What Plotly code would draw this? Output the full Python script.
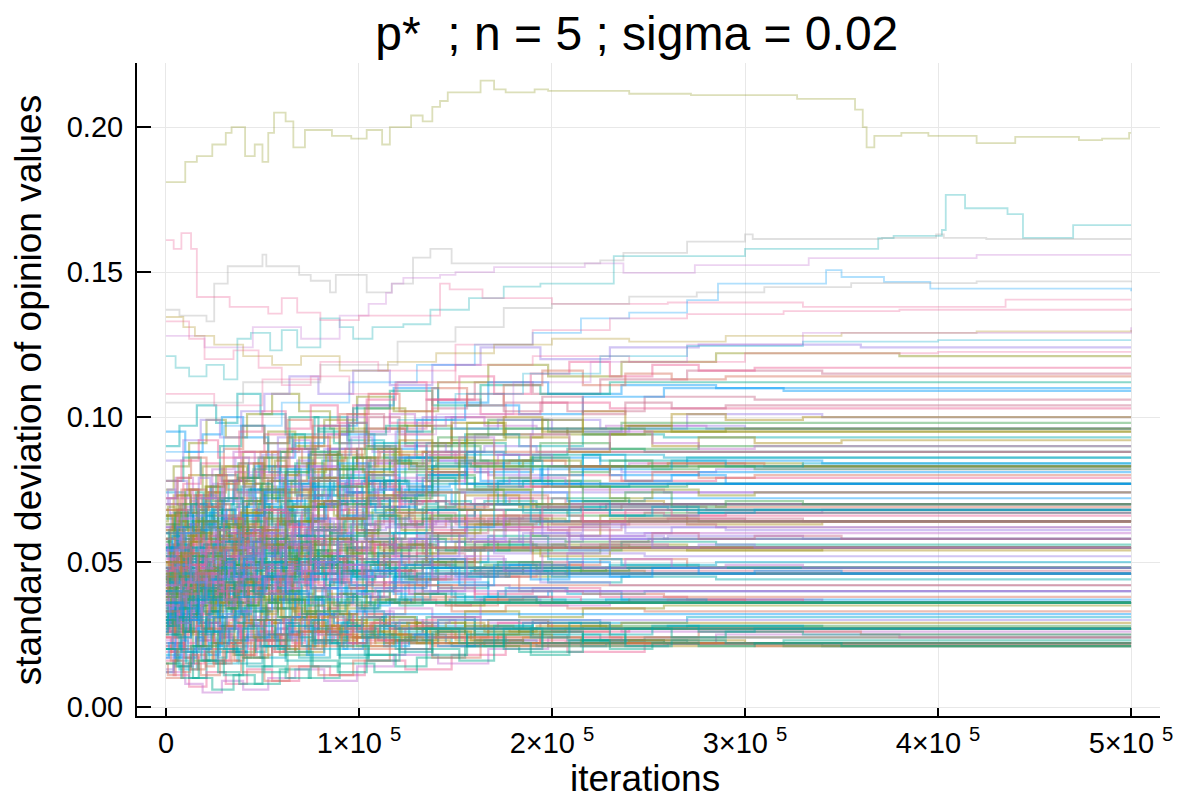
import plotly.graph_objects as go

# iteration breakpoints shared by groups of runs (step positions)
GRID_1 = [0, 7000, 16000, 26000, 37000, 49000, 62000, 77000, 94000, 113000, 135000, 160000, 190000, 225000, 270000, 340000, 500000]
GRID_2 = [0, 4000, 12000, 21000, 31000, 42000, 55000, 69000, 85000, 103000, 124000, 148000, 176000, 208000, 248000, 305000, 500000]
GRID_3 = [0, 10000, 19000, 29000, 40000, 53000, 67000, 82000, 99000, 118000, 141000, 167000, 198000, 236000, 285000, 380000, 500000]
GRID_4 = [0, 5000, 14000, 24000, 35000, 46000, 59000, 74000, 90000, 108000, 130000, 155000, 183000, 216000, 258000, 320000, 500000]
GRID_5 = [0, 9000, 18000, 28000, 39000, 51000, 64000, 79000, 97000, 116000, 138000, 163000, 194000, 230000, 276000, 360000, 500000]
GRID_6 = [0, 3000, 8000, 13000, 19000, 25000, 31000, 38000, 45000, 52000, 60000, 68000, 77000, 86000, 96000, 107000,
          119000, 133000, 150000, 172000, 200000, 240000, 300000, 500000]
GRID_7 = [0, 5000, 10000, 16000, 22000, 28000, 35000, 42000, 49000, 57000, 65000, 73000, 82000, 92000, 102000, 113000,
          126000, 141000, 160000, 185000, 215000, 260000, 330000, 500000]
GRID_8 = [0, 2000, 6000, 11000, 17000, 23000, 29000, 36000, 43000, 50000, 58000, 66000, 75000, 84000, 94000, 104000,
          116000, 129000, 145000, 165000, 192000, 228000, 280000, 500000]
GRID_9 = [0, 4000, 9000, 14000, 20000, 27000, 33000, 40000, 47000, 55000, 62000, 70000, 79000, 89000, 99000, 110000,
          122000, 137000, 155000, 178000, 207000, 250000, 310000, 500000]
GRID_10 = [0, 2500, 6000, 9500, 13000, 17000, 21000, 25000, 29500, 34000, 39000, 44000, 49500, 55000, 61000, 67000,
           74000, 81000, 89000, 97000, 106000, 116000, 127000, 140000, 158000, 185000, 230000, 500000]
GRID_11 = [0, 1500, 4500, 8000, 11500, 15500, 19500, 23500, 28000, 32500, 37500, 42500, 48000, 53500, 59500, 65500,
           72000, 79000, 87000, 95000, 104000, 114000, 125000, 138000, 155000, 180000, 220000, 500000]
GRID_12 = [0, 3500, 7000, 10500, 14500, 18500, 22500, 27000, 31500, 36000, 41000, 46500, 52000, 58000, 64000, 70500,
           77500, 85000, 93000, 101500, 111000, 121000, 133000, 147000, 165000, 195000, 245000, 500000]
GRID_13 = [0, 1000, 5000, 9000, 12500, 16500, 20500, 24500, 30500, 35500, 40500, 45500, 51000, 56500, 62500, 69000,
           76000, 83000, 91000, 99000, 108500, 118500, 130000, 143000, 160000, 190000, 260000, 500000]
GRID_14 = [0, 6000, 13000, 21000, 30000, 40000, 51000, 63000, 76000, 90000, 105000, 121000, 138000, 156000, 175000,
           195000, 216000, 238000, 262000, 290000, 330000, 500000]
GRID_15 = [0, 8000, 17000, 27000, 38000, 50000, 62000, 75000, 89000, 104000, 119000, 135000, 152000, 170000, 189000,
           209000, 230000, 252000, 276000, 305000, 350000, 500000]

RUNS_1 = [
    [0.035, 0.031, 0.038, 0.033, 0.029, 0.034, 0.030, 0.026, 0.031, 0.027, 0.024, 0.028, 0.025, 0.023, 0.022, 0.021, 0.021],
    [0.042, 0.048, 0.041, 0.046, 0.052, 0.045, 0.050, 0.043, 0.047, 0.041, 0.044, 0.039, 0.041, 0.038, 0.037, 0.036, 0.036],
    [0.028, 0.034, 0.029, 0.037, 0.043, 0.038, 0.046, 0.052, 0.047, 0.055, 0.050, 0.057, 0.053, 0.056, 0.054, 0.055, 0.055],
    [0.051, 0.058, 0.064, 0.057, 0.066, 0.072, 0.063, 0.070, 0.078, 0.071, 0.065, 0.072, 0.068, 0.070, 0.067, 0.068, 0.068],
    [0.045, 0.052, 0.047, 0.058, 0.065, 0.060, 0.071, 0.079, 0.074, 0.082, 0.088, 0.081, 0.086, 0.083, 0.085, 0.084, 0.084],
    [0.022, 0.017, 0.024, 0.019, 0.026, 0.021, 0.028, 0.023, 0.030, 0.025, 0.031, 0.026, 0.029, 0.027, 0.028, 0.027, 0.027],
    [0.062, 0.055, 0.060, 0.052, 0.058, 0.049, 0.055, 0.061, 0.053, 0.057, 0.050, 0.054, 0.049, 0.051, 0.048, 0.048, 0.048],
    [0.040, 0.047, 0.055, 0.062, 0.057, 0.068, 0.076, 0.070, 0.082, 0.090, 0.085, 0.094, 0.099, 0.096, 0.101, 0.100, 0.100],
    [0.033, 0.027, 0.035, 0.041, 0.036, 0.044, 0.039, 0.048, 0.055, 0.050, 0.058, 0.063, 0.059, 0.066, 0.063, 0.064, 0.064],
    [0.018, 0.013, 0.019, 0.015, 0.021, 0.017, 0.024, 0.020, 0.026, 0.022, 0.028, 0.025, 0.030, 0.029, 0.031, 0.031, 0.031],
    [0.070, 0.064, 0.072, 0.080, 0.074, 0.083, 0.077, 0.086, 0.079, 0.073, 0.080, 0.075, 0.078, 0.076, 0.077, 0.077, 0.077],
    [0.058, 0.066, 0.073, 0.068, 0.079, 0.088, 0.083, 0.094, 0.101, 0.096, 0.106, 0.112, 0.108, 0.113, 0.116, 0.115, 0.115],
    [0.090, 0.097, 0.104, 0.098, 0.108, 0.101, 0.094, 0.100, 0.092, 0.086, 0.091, 0.084, 0.087, 0.085, 0.086, 0.086, 0.086],
]
RUNS_2 = [
    [0.030, 0.026, 0.033, 0.028, 0.024, 0.030, 0.025, 0.032, 0.027, 0.023, 0.027, 0.024, 0.022, 0.023, 0.022, 0.022, 0.022],
    [0.038, 0.044, 0.037, 0.043, 0.049, 0.042, 0.047, 0.053, 0.046, 0.050, 0.044, 0.048, 0.045, 0.047, 0.046, 0.046, 0.046],
    [0.047, 0.041, 0.048, 0.055, 0.049, 0.057, 0.052, 0.059, 0.065, 0.058, 0.063, 0.057, 0.061, 0.059, 0.060, 0.060, 0.060],
    [0.036, 0.043, 0.050, 0.045, 0.054, 0.061, 0.056, 0.065, 0.060, 0.069, 0.075, 0.070, 0.074, 0.071, 0.072, 0.072, 0.072],
    [0.055, 0.049, 0.058, 0.066, 0.060, 0.070, 0.078, 0.073, 0.082, 0.077, 0.086, 0.091, 0.087, 0.089, 0.088, 0.088, 0.088],
    [0.044, 0.039, 0.046, 0.040, 0.036, 0.042, 0.037, 0.031, 0.036, 0.032, 0.037, 0.033, 0.035, 0.034, 0.033, 0.033, 0.033],
    [0.025, 0.031, 0.026, 0.033, 0.039, 0.034, 0.041, 0.036, 0.044, 0.049, 0.045, 0.051, 0.047, 0.053, 0.052, 0.052, 0.052],
    [0.066, 0.073, 0.080, 0.074, 0.083, 0.077, 0.088, 0.093, 0.087, 0.096, 0.091, 0.098, 0.094, 0.096, 0.095, 0.095, 0.095],
    [0.050, 0.056, 0.049, 0.044, 0.051, 0.045, 0.039, 0.046, 0.041, 0.036, 0.042, 0.038, 0.041, 0.039, 0.040, 0.040, 0.040],
    [0.029, 0.035, 0.042, 0.037, 0.046, 0.053, 0.047, 0.056, 0.062, 0.058, 0.066, 0.061, 0.068, 0.066, 0.067, 0.067, 0.067],
    [0.048, 0.055, 0.063, 0.070, 0.064, 0.075, 0.083, 0.078, 0.089, 0.096, 0.090, 0.100, 0.105, 0.102, 0.107, 0.106, 0.106],
    [0.012, 0.016, 0.010, 0.015, 0.019, 0.014, 0.020, 0.017, 0.022, 0.018, 0.024, 0.021, 0.025, 0.023, 0.024, 0.024, 0.024],
    [0.016, 0.011, 0.007, 0.012, 0.008, 0.013, 0.009, 0.014, 0.011, 0.016, 0.013, 0.018, 0.021, 0.019, 0.022, 0.021, 0.021],
    [0.075, 0.083, 0.091, 0.099, 0.093, 0.101, 0.108, 0.102, 0.096, 0.103, 0.097, 0.092, 0.096, 0.094, 0.095, 0.095, 0.095],
]
RUNS_3 = [
    [0.040, 0.035, 0.041, 0.036, 0.031, 0.037, 0.032, 0.028, 0.033, 0.029, 0.025, 0.029, 0.027, 0.026, 0.026, 0.026, 0.026],
    [0.055, 0.048, 0.053, 0.046, 0.050, 0.043, 0.047, 0.041, 0.045, 0.039, 0.043, 0.038, 0.040, 0.037, 0.037, 0.037, 0.037],
    [0.034, 0.040, 0.046, 0.041, 0.049, 0.044, 0.052, 0.058, 0.053, 0.060, 0.055, 0.059, 0.054, 0.057, 0.056, 0.056, 0.056],
    [0.043, 0.050, 0.045, 0.054, 0.061, 0.055, 0.064, 0.071, 0.066, 0.074, 0.069, 0.073, 0.068, 0.070, 0.069, 0.069, 0.069],
    [0.062, 0.069, 0.063, 0.072, 0.079, 0.074, 0.083, 0.089, 0.084, 0.078, 0.085, 0.080, 0.083, 0.081, 0.082, 0.082, 0.082],
    [0.026, 0.021, 0.027, 0.022, 0.017, 0.023, 0.019, 0.025, 0.021, 0.027, 0.024, 0.030, 0.028, 0.029, 0.029, 0.029, 0.029],
    [0.074, 0.067, 0.072, 0.065, 0.060, 0.066, 0.059, 0.054, 0.060, 0.055, 0.050, 0.054, 0.051, 0.049, 0.050, 0.050, 0.050],
    [0.052, 0.059, 0.067, 0.062, 0.071, 0.078, 0.073, 0.082, 0.089, 0.085, 0.093, 0.099, 0.095, 0.098, 0.098, 0.098, 0.098],
    [0.038, 0.032, 0.039, 0.046, 0.041, 0.048, 0.054, 0.049, 0.057, 0.052, 0.060, 0.065, 0.061, 0.063, 0.062, 0.062, 0.062],
    [0.020, 0.026, 0.021, 0.028, 0.034, 0.030, 0.037, 0.032, 0.040, 0.045, 0.041, 0.047, 0.043, 0.045, 0.044, 0.044, 0.044],
    [0.041, 0.048, 0.056, 0.051, 0.060, 0.067, 0.062, 0.071, 0.077, 0.073, 0.081, 0.076, 0.080, 0.078, 0.079, 0.079, 0.079],
    [0.068, 0.075, 0.083, 0.078, 0.088, 0.095, 0.090, 0.099, 0.107, 0.102, 0.112, 0.118, 0.114, 0.119, 0.122, 0.121, 0.121],
    [0.012, 0.008, 0.005, 0.009, 0.006, 0.010, 0.013, 0.009, 0.014, 0.018, 0.015, 0.020, 0.024, 0.022, 0.025, 0.024, 0.024],
    [0.095, 0.088, 0.094, 0.100, 0.093, 0.086, 0.091, 0.097, 0.104, 0.110, 0.105, 0.112, 0.108, 0.111, 0.110, 0.110, 0.110],
]
RUNS_4 = [
    [0.045, 0.040, 0.046, 0.041, 0.036, 0.042, 0.037, 0.032, 0.036, 0.031, 0.027, 0.030, 0.026, 0.023, 0.022, 0.021, 0.021],
    [0.033, 0.039, 0.034, 0.040, 0.045, 0.039, 0.044, 0.049, 0.043, 0.047, 0.042, 0.045, 0.040, 0.039, 0.038, 0.038, 0.038],
    [0.040, 0.046, 0.041, 0.048, 0.054, 0.049, 0.057, 0.063, 0.058, 0.064, 0.059, 0.062, 0.057, 0.059, 0.058, 0.058, 0.058],
    [0.058, 0.052, 0.059, 0.066, 0.060, 0.068, 0.075, 0.069, 0.077, 0.072, 0.068, 0.073, 0.069, 0.071, 0.070, 0.070, 0.070],
    [0.037, 0.044, 0.052, 0.047, 0.057, 0.064, 0.059, 0.069, 0.076, 0.071, 0.080, 0.087, 0.083, 0.087, 0.086, 0.086, 0.086],
    [0.031, 0.026, 0.020, 0.025, 0.019, 0.024, 0.018, 0.023, 0.028, 0.024, 0.029, 0.025, 0.027, 0.028, 0.028, 0.028, 0.028],
    [0.046, 0.052, 0.058, 0.051, 0.057, 0.050, 0.056, 0.050, 0.055, 0.049, 0.053, 0.048, 0.050, 0.047, 0.047, 0.047, 0.047],
    [0.060, 0.067, 0.061, 0.070, 0.078, 0.072, 0.081, 0.088, 0.083, 0.091, 0.086, 0.094, 0.090, 0.094, 0.093, 0.093, 0.093],
    [0.024, 0.030, 0.036, 0.031, 0.040, 0.047, 0.042, 0.050, 0.057, 0.052, 0.060, 0.066, 0.062, 0.067, 0.066, 0.066, 0.066],
    [0.015, 0.020, 0.016, 0.022, 0.018, 0.025, 0.021, 0.028, 0.024, 0.030, 0.027, 0.033, 0.031, 0.034, 0.035, 0.035, 0.035],
    [0.072, 0.079, 0.073, 0.082, 0.088, 0.081, 0.089, 0.083, 0.077, 0.084, 0.078, 0.082, 0.076, 0.075, 0.074, 0.074, 0.074],
    [0.054, 0.062, 0.070, 0.065, 0.075, 0.083, 0.077, 0.087, 0.094, 0.089, 0.099, 0.104, 0.101, 0.107, 0.110, 0.109, 0.109],
    [0.020, 0.014, 0.010, 0.006, 0.011, 0.008, 0.013, 0.010, 0.015, 0.012, 0.017, 0.021, 0.019, 0.023, 0.022, 0.023, 0.023],
]
RUNS_5 = [
    [0.027, 0.032, 0.027, 0.022, 0.028, 0.023, 0.029, 0.025, 0.020, 0.025, 0.021, 0.024, 0.022, 0.023, 0.022, 0.022, 0.022],
    [0.036, 0.042, 0.048, 0.042, 0.049, 0.055, 0.048, 0.053, 0.046, 0.050, 0.044, 0.047, 0.043, 0.042, 0.042, 0.042, 0.042],
    [0.050, 0.045, 0.052, 0.046, 0.053, 0.059, 0.052, 0.058, 0.051, 0.056, 0.050, 0.055, 0.052, 0.054, 0.054, 0.054, 0.054],
    [0.032, 0.038, 0.045, 0.040, 0.049, 0.056, 0.050, 0.059, 0.065, 0.060, 0.068, 0.063, 0.068, 0.066, 0.067, 0.067, 0.067],
    [0.047, 0.054, 0.062, 0.057, 0.067, 0.075, 0.069, 0.079, 0.086, 0.081, 0.090, 0.085, 0.091, 0.089, 0.090, 0.090, 0.090],
    [0.039, 0.034, 0.029, 0.035, 0.030, 0.025, 0.031, 0.026, 0.032, 0.027, 0.031, 0.027, 0.029, 0.027, 0.027, 0.027, 0.027],
    [0.028, 0.034, 0.029, 0.036, 0.042, 0.037, 0.044, 0.050, 0.045, 0.051, 0.047, 0.050, 0.048, 0.049, 0.048, 0.048, 0.048],
    [0.070, 0.077, 0.084, 0.078, 0.088, 0.094, 0.089, 0.097, 0.104, 0.098, 0.106, 0.101, 0.105, 0.103, 0.103, 0.103, 0.103],
    [0.055, 0.061, 0.055, 0.062, 0.068, 0.061, 0.069, 0.063, 0.070, 0.065, 0.060, 0.066, 0.063, 0.065, 0.064, 0.064, 0.064],
    [0.022, 0.017, 0.023, 0.028, 0.023, 0.030, 0.026, 0.032, 0.028, 0.034, 0.031, 0.037, 0.035, 0.036, 0.036, 0.036, 0.036],
    [0.044, 0.051, 0.058, 0.052, 0.062, 0.069, 0.064, 0.073, 0.080, 0.075, 0.083, 0.078, 0.082, 0.080, 0.081, 0.081, 0.081],
    [0.078, 0.086, 0.080, 0.090, 0.097, 0.091, 0.100, 0.095, 0.103, 0.109, 0.104, 0.111, 0.108, 0.112, 0.112, 0.112, 0.112],
    [0.010, 0.015, 0.011, 0.016, 0.012, 0.009, 0.014, 0.011, 0.016, 0.020, 0.017, 0.022, 0.026, 0.024, 0.026, 0.025, 0.025],
    [0.085, 0.092, 0.099, 0.093, 0.102, 0.108, 0.114, 0.108, 0.116, 0.111, 0.118, 0.124, 0.120, 0.124, 0.125, 0.124, 0.124],
]
RUNS_6 = [
    [0.041, 0.036, 0.043, 0.038, 0.033, 0.039, 0.034, 0.040, 0.035, 0.030, 0.036, 0.031, 0.027, 0.032, 0.028, 0.025, 0.029, 0.026, 0.023, 0.025, 0.022, 0.023, 0.022, 0.022],
    [0.030, 0.035, 0.029, 0.034, 0.040, 0.035, 0.041, 0.046, 0.040, 0.045, 0.039, 0.044, 0.049, 0.043, 0.047, 0.041, 0.045, 0.040, 0.038, 0.040, 0.037, 0.036, 0.036, 0.036],
    [0.048, 0.043, 0.049, 0.055, 0.049, 0.044, 0.050, 0.056, 0.051, 0.057, 0.052, 0.047, 0.053, 0.048, 0.054, 0.050, 0.046, 0.051, 0.048, 0.050, 0.047, 0.048, 0.048, 0.048],
    [0.026, 0.031, 0.036, 0.031, 0.037, 0.042, 0.037, 0.043, 0.049, 0.044, 0.050, 0.055, 0.050, 0.056, 0.061, 0.056, 0.062, 0.067, 0.063, 0.066, 0.063, 0.065, 0.064, 0.064],
    [0.053, 0.059, 0.054, 0.060, 0.066, 0.061, 0.055, 0.062, 0.068, 0.063, 0.070, 0.075, 0.069, 0.076, 0.071, 0.078, 0.073, 0.079, 0.075, 0.078, 0.076, 0.077, 0.077, 0.077],
    [0.036, 0.031, 0.026, 0.032, 0.027, 0.022, 0.028, 0.024, 0.030, 0.025, 0.021, 0.026, 0.022, 0.028, 0.024, 0.029, 0.025, 0.030, 0.027, 0.029, 0.026, 0.027, 0.027, 0.027],
    [0.044, 0.049, 0.044, 0.039, 0.045, 0.051, 0.045, 0.040, 0.046, 0.052, 0.047, 0.053, 0.048, 0.054, 0.059, 0.053, 0.058, 0.053, 0.057, 0.054, 0.056, 0.055, 0.055, 0.055],
    [0.038, 0.043, 0.049, 0.044, 0.051, 0.057, 0.052, 0.059, 0.065, 0.060, 0.067, 0.073, 0.068, 0.075, 0.081, 0.076, 0.083, 0.088, 0.084, 0.087, 0.083, 0.084, 0.083, 0.083],
    [0.057, 0.052, 0.058, 0.053, 0.048, 0.054, 0.049, 0.055, 0.050, 0.045, 0.051, 0.046, 0.052, 0.047, 0.042, 0.048, 0.044, 0.049, 0.045, 0.047, 0.045, 0.046, 0.046, 0.046],
    [0.034, 0.039, 0.045, 0.040, 0.046, 0.052, 0.047, 0.053, 0.059, 0.054, 0.048, 0.055, 0.061, 0.056, 0.063, 0.068, 0.063, 0.069, 0.074, 0.070, 0.072, 0.070, 0.070, 0.070],
    [0.024, 0.019, 0.025, 0.030, 0.025, 0.031, 0.027, 0.033, 0.028, 0.034, 0.039, 0.034, 0.040, 0.035, 0.041, 0.037, 0.042, 0.038, 0.035, 0.038, 0.036, 0.037, 0.036, 0.036],
    [0.047, 0.053, 0.060, 0.054, 0.062, 0.068, 0.063, 0.070, 0.077, 0.071, 0.079, 0.085, 0.080, 0.087, 0.093, 0.088, 0.095, 0.100, 0.096, 0.099, 0.095, 0.097, 0.096, 0.096],
]
RUNS_7 = [
    [0.033, 0.038, 0.033, 0.028, 0.034, 0.029, 0.035, 0.030, 0.026, 0.031, 0.027, 0.033, 0.028, 0.024, 0.029, 0.025, 0.022, 0.026, 0.023, 0.024, 0.022, 0.022, 0.022, 0.022],
    [0.048, 0.043, 0.038, 0.044, 0.039, 0.034, 0.040, 0.035, 0.041, 0.036, 0.031, 0.037, 0.032, 0.028, 0.033, 0.029, 0.025, 0.030, 0.027, 0.029, 0.027, 0.028, 0.027, 0.027],
    [0.037, 0.042, 0.048, 0.042, 0.037, 0.043, 0.049, 0.044, 0.050, 0.045, 0.040, 0.046, 0.052, 0.047, 0.042, 0.048, 0.044, 0.049, 0.046, 0.048, 0.046, 0.046, 0.046, 0.046],
    [0.045, 0.040, 0.046, 0.052, 0.047, 0.053, 0.048, 0.054, 0.060, 0.055, 0.061, 0.056, 0.062, 0.068, 0.063, 0.069, 0.064, 0.068, 0.065, 0.066, 0.064, 0.065, 0.064, 0.064],
    [0.029, 0.034, 0.040, 0.035, 0.041, 0.047, 0.042, 0.048, 0.054, 0.049, 0.056, 0.062, 0.057, 0.064, 0.070, 0.065, 0.071, 0.066, 0.070, 0.067, 0.069, 0.068, 0.068, 0.068],
    [0.052, 0.047, 0.053, 0.048, 0.043, 0.049, 0.044, 0.050, 0.045, 0.040, 0.046, 0.041, 0.047, 0.042, 0.038, 0.043, 0.039, 0.041, 0.037, 0.038, 0.036, 0.037, 0.036, 0.036],
    [0.061, 0.067, 0.062, 0.068, 0.074, 0.068, 0.063, 0.070, 0.076, 0.071, 0.078, 0.084, 0.079, 0.086, 0.081, 0.087, 0.082, 0.086, 0.083, 0.085, 0.083, 0.084, 0.083, 0.083],
    [0.021, 0.026, 0.031, 0.027, 0.033, 0.038, 0.033, 0.039, 0.045, 0.040, 0.046, 0.051, 0.046, 0.052, 0.057, 0.052, 0.058, 0.054, 0.057, 0.055, 0.056, 0.055, 0.055, 0.055],
    [0.026, 0.021, 0.027, 0.023, 0.018, 0.024, 0.019, 0.025, 0.021, 0.027, 0.023, 0.018, 0.024, 0.020, 0.025, 0.021, 0.024, 0.021, 0.023, 0.022, 0.021, 0.022, 0.022, 0.022],
    [0.040, 0.045, 0.051, 0.046, 0.053, 0.059, 0.054, 0.061, 0.056, 0.063, 0.069, 0.064, 0.071, 0.076, 0.071, 0.078, 0.074, 0.079, 0.076, 0.078, 0.076, 0.077, 0.077, 0.077],
    [0.063, 0.057, 0.063, 0.058, 0.053, 0.059, 0.054, 0.060, 0.055, 0.050, 0.056, 0.051, 0.046, 0.052, 0.047, 0.053, 0.049, 0.051, 0.047, 0.049, 0.048, 0.048, 0.048, 0.048],
    [0.017, 0.022, 0.018, 0.024, 0.029, 0.025, 0.031, 0.036, 0.031, 0.037, 0.043, 0.038, 0.044, 0.049, 0.045, 0.051, 0.056, 0.052, 0.057, 0.060, 0.058, 0.059, 0.058, 0.058],
]
RUNS_8 = [
    [0.044, 0.039, 0.045, 0.040, 0.035, 0.041, 0.036, 0.031, 0.037, 0.032, 0.038, 0.033, 0.029, 0.034, 0.030, 0.026, 0.031, 0.027, 0.029, 0.026, 0.028, 0.027, 0.027, 0.027],
    [0.027, 0.032, 0.027, 0.033, 0.038, 0.033, 0.039, 0.034, 0.040, 0.045, 0.040, 0.046, 0.041, 0.037, 0.042, 0.038, 0.043, 0.039, 0.036, 0.038, 0.036, 0.037, 0.036, 0.036],
    [0.052, 0.058, 0.053, 0.047, 0.053, 0.048, 0.054, 0.060, 0.055, 0.049, 0.055, 0.050, 0.056, 0.051, 0.046, 0.052, 0.047, 0.050, 0.048, 0.049, 0.047, 0.048, 0.048, 0.048],
    [0.039, 0.044, 0.050, 0.045, 0.051, 0.046, 0.052, 0.058, 0.053, 0.059, 0.065, 0.060, 0.066, 0.061, 0.067, 0.072, 0.067, 0.071, 0.068, 0.070, 0.068, 0.069, 0.068, 0.068],
    [0.060, 0.055, 0.061, 0.067, 0.062, 0.068, 0.063, 0.069, 0.075, 0.069, 0.064, 0.070, 0.076, 0.071, 0.066, 0.072, 0.068, 0.073, 0.070, 0.071, 0.069, 0.070, 0.070, 0.070],
    [0.031, 0.026, 0.032, 0.037, 0.032, 0.038, 0.043, 0.038, 0.044, 0.039, 0.045, 0.050, 0.045, 0.051, 0.046, 0.042, 0.047, 0.044, 0.046, 0.045, 0.046, 0.046, 0.046, 0.046],
    [0.041, 0.046, 0.052, 0.046, 0.041, 0.047, 0.042, 0.036, 0.042, 0.037, 0.043, 0.038, 0.033, 0.039, 0.034, 0.040, 0.036, 0.039, 0.035, 0.037, 0.036, 0.036, 0.036, 0.036],
    [0.056, 0.062, 0.068, 0.063, 0.070, 0.076, 0.071, 0.078, 0.084, 0.079, 0.086, 0.092, 0.087, 0.094, 0.100, 0.095, 0.101, 0.097, 0.100, 0.097, 0.096, 0.097, 0.096, 0.096],
    [0.035, 0.030, 0.036, 0.031, 0.026, 0.032, 0.027, 0.033, 0.028, 0.024, 0.029, 0.025, 0.030, 0.026, 0.022, 0.027, 0.023, 0.025, 0.022, 0.023, 0.021, 0.022, 0.022, 0.022],
    [0.048, 0.043, 0.038, 0.044, 0.050, 0.045, 0.051, 0.046, 0.052, 0.058, 0.053, 0.059, 0.054, 0.049, 0.055, 0.060, 0.055, 0.058, 0.054, 0.056, 0.055, 0.055, 0.055, 0.055],
    [0.050, 0.056, 0.050, 0.056, 0.062, 0.057, 0.051, 0.057, 0.063, 0.058, 0.064, 0.059, 0.065, 0.070, 0.065, 0.060, 0.066, 0.062, 0.065, 0.063, 0.064, 0.064, 0.064, 0.064],
    [0.066, 0.072, 0.078, 0.072, 0.079, 0.073, 0.080, 0.086, 0.080, 0.087, 0.093, 0.088, 0.082, 0.089, 0.095, 0.090, 0.086, 0.091, 0.088, 0.090, 0.088, 0.088, 0.088, 0.088],
]
RUNS_9 = [
    [0.029, 0.024, 0.030, 0.025, 0.021, 0.027, 0.022, 0.028, 0.023, 0.029, 0.025, 0.031, 0.026, 0.032, 0.027, 0.023, 0.028, 0.025, 0.027, 0.026, 0.027, 0.027, 0.027, 0.027],
    [0.046, 0.052, 0.046, 0.041, 0.047, 0.053, 0.047, 0.042, 0.048, 0.054, 0.049, 0.044, 0.050, 0.045, 0.051, 0.047, 0.043, 0.048, 0.045, 0.047, 0.046, 0.046, 0.046, 0.046],
    [0.036, 0.041, 0.036, 0.042, 0.048, 0.043, 0.049, 0.055, 0.050, 0.056, 0.051, 0.057, 0.062, 0.057, 0.063, 0.058, 0.054, 0.059, 0.056, 0.058, 0.057, 0.058, 0.058, 0.058],
    [0.043, 0.048, 0.054, 0.049, 0.055, 0.061, 0.056, 0.062, 0.068, 0.063, 0.069, 0.075, 0.070, 0.065, 0.071, 0.076, 0.071, 0.074, 0.070, 0.072, 0.070, 0.070, 0.070, 0.070],
    [0.039, 0.034, 0.040, 0.045, 0.040, 0.035, 0.041, 0.047, 0.042, 0.037, 0.043, 0.038, 0.033, 0.039, 0.034, 0.040, 0.037, 0.039, 0.036, 0.037, 0.036, 0.036, 0.036, 0.036],
    [0.019, 0.024, 0.019, 0.015, 0.020, 0.016, 0.022, 0.018, 0.023, 0.019, 0.025, 0.021, 0.026, 0.022, 0.027, 0.023, 0.020, 0.024, 0.022, 0.023, 0.022, 0.022, 0.022, 0.022],
    [0.058, 0.063, 0.058, 0.064, 0.069, 0.063, 0.057, 0.063, 0.069, 0.064, 0.058, 0.064, 0.070, 0.065, 0.060, 0.066, 0.061, 0.066, 0.063, 0.065, 0.064, 0.064, 0.064, 0.064],
    [0.032, 0.037, 0.043, 0.038, 0.044, 0.050, 0.045, 0.052, 0.058, 0.053, 0.060, 0.066, 0.061, 0.068, 0.074, 0.069, 0.076, 0.081, 0.077, 0.079, 0.077, 0.077, 0.077, 0.077],
    [0.030, 0.035, 0.041, 0.036, 0.042, 0.037, 0.043, 0.049, 0.044, 0.050, 0.045, 0.051, 0.046, 0.052, 0.047, 0.053, 0.049, 0.051, 0.048, 0.049, 0.048, 0.048, 0.048, 0.048],
    [0.065, 0.060, 0.066, 0.061, 0.056, 0.062, 0.057, 0.052, 0.058, 0.053, 0.059, 0.054, 0.049, 0.055, 0.050, 0.056, 0.052, 0.057, 0.054, 0.056, 0.055, 0.055, 0.055, 0.055],
    [0.050, 0.056, 0.062, 0.057, 0.064, 0.070, 0.065, 0.072, 0.067, 0.074, 0.080, 0.075, 0.082, 0.088, 0.083, 0.089, 0.084, 0.087, 0.084, 0.085, 0.083, 0.084, 0.083, 0.083],
    [0.013, 0.018, 0.014, 0.020, 0.016, 0.022, 0.027, 0.023, 0.029, 0.025, 0.031, 0.036, 0.032, 0.038, 0.034, 0.040, 0.043, 0.040, 0.042, 0.041, 0.040, 0.040, 0.040, 0.040],
]
RUNS_10 = [
    [0.038, 0.033, 0.039, 0.034, 0.040, 0.035, 0.030, 0.036, 0.031, 0.037, 0.032, 0.028, 0.033, 0.029, 0.034, 0.030, 0.026, 0.031, 0.027, 0.024, 0.028, 0.025, 0.023, 0.026, 0.023, 0.022, 0.022, 0.022],
    [0.045, 0.050, 0.045, 0.051, 0.046, 0.041, 0.047, 0.052, 0.047, 0.042, 0.048, 0.053, 0.048, 0.043, 0.049, 0.054, 0.049, 0.044, 0.050, 0.045, 0.049, 0.046, 0.048, 0.046, 0.047, 0.046, 0.046, 0.046],
    [0.031, 0.036, 0.031, 0.037, 0.042, 0.037, 0.043, 0.038, 0.044, 0.049, 0.044, 0.050, 0.045, 0.051, 0.046, 0.052, 0.057, 0.052, 0.058, 0.053, 0.057, 0.054, 0.056, 0.054, 0.055, 0.055, 0.055, 0.055],
    [0.052, 0.047, 0.053, 0.048, 0.043, 0.049, 0.044, 0.039, 0.045, 0.040, 0.046, 0.041, 0.036, 0.042, 0.037, 0.043, 0.038, 0.034, 0.039, 0.035, 0.038, 0.036, 0.037, 0.035, 0.036, 0.036, 0.036, 0.036],
    [0.040, 0.045, 0.051, 0.046, 0.052, 0.047, 0.053, 0.059, 0.054, 0.060, 0.055, 0.061, 0.067, 0.062, 0.068, 0.063, 0.069, 0.075, 0.070, 0.074, 0.069, 0.072, 0.070, 0.071, 0.070, 0.070, 0.070, 0.070],
    [0.024, 0.019, 0.025, 0.020, 0.026, 0.021, 0.027, 0.022, 0.028, 0.023, 0.029, 0.024, 0.030, 0.025, 0.031, 0.026, 0.032, 0.027, 0.030, 0.026, 0.029, 0.027, 0.028, 0.027, 0.027, 0.027, 0.027, 0.027],
    [0.057, 0.062, 0.056, 0.051, 0.057, 0.052, 0.046, 0.052, 0.047, 0.053, 0.048, 0.043, 0.049, 0.044, 0.050, 0.045, 0.051, 0.046, 0.050, 0.047, 0.049, 0.047, 0.048, 0.048, 0.048, 0.048, 0.048, 0.048],
    [0.034, 0.029, 0.035, 0.040, 0.035, 0.041, 0.046, 0.041, 0.047, 0.052, 0.047, 0.053, 0.048, 0.054, 0.059, 0.054, 0.060, 0.065, 0.060, 0.066, 0.062, 0.065, 0.063, 0.064, 0.064, 0.064, 0.064, 0.064],
    [0.029, 0.034, 0.029, 0.024, 0.030, 0.025, 0.031, 0.026, 0.032, 0.037, 0.032, 0.038, 0.033, 0.039, 0.034, 0.040, 0.035, 0.041, 0.036, 0.039, 0.035, 0.037, 0.036, 0.036, 0.036, 0.036, 0.036, 0.036],
    [0.050, 0.055, 0.061, 0.056, 0.062, 0.068, 0.063, 0.069, 0.064, 0.070, 0.076, 0.071, 0.077, 0.072, 0.078, 0.084, 0.079, 0.085, 0.080, 0.086, 0.082, 0.085, 0.083, 0.084, 0.083, 0.083, 0.083, 0.083],
    [0.021, 0.016, 0.022, 0.017, 0.013, 0.018, 0.014, 0.020, 0.015, 0.021, 0.017, 0.023, 0.018, 0.024, 0.019, 0.025, 0.020, 0.026, 0.021, 0.024, 0.021, 0.023, 0.022, 0.022, 0.022, 0.022, 0.022, 0.022],
    [0.062, 0.067, 0.062, 0.057, 0.063, 0.058, 0.064, 0.059, 0.054, 0.060, 0.055, 0.061, 0.056, 0.062, 0.057, 0.063, 0.058, 0.053, 0.059, 0.055, 0.058, 0.056, 0.058, 0.057, 0.058, 0.058, 0.058, 0.058],
]
RUNS_11 = [
    [0.046, 0.041, 0.047, 0.042, 0.037, 0.043, 0.038, 0.044, 0.039, 0.034, 0.040, 0.035, 0.041, 0.036, 0.031, 0.037, 0.032, 0.028, 0.033, 0.029, 0.031, 0.028, 0.029, 0.027, 0.028, 0.027, 0.027, 0.027],
    [0.027, 0.032, 0.037, 0.032, 0.038, 0.033, 0.039, 0.044, 0.039, 0.045, 0.040, 0.046, 0.051, 0.046, 0.052, 0.047, 0.053, 0.048, 0.052, 0.047, 0.050, 0.048, 0.049, 0.048, 0.048, 0.048, 0.048, 0.048],
    [0.036, 0.041, 0.036, 0.042, 0.037, 0.043, 0.038, 0.033, 0.039, 0.034, 0.040, 0.035, 0.041, 0.036, 0.042, 0.037, 0.033, 0.038, 0.035, 0.038, 0.036, 0.037, 0.036, 0.036, 0.036, 0.036, 0.036, 0.036],
    [0.054, 0.049, 0.055, 0.050, 0.056, 0.061, 0.056, 0.062, 0.057, 0.052, 0.058, 0.053, 0.059, 0.054, 0.060, 0.055, 0.061, 0.056, 0.058, 0.054, 0.056, 0.055, 0.056, 0.055, 0.055, 0.055, 0.055, 0.055],
    [0.043, 0.048, 0.054, 0.049, 0.055, 0.050, 0.056, 0.062, 0.057, 0.063, 0.058, 0.064, 0.070, 0.065, 0.071, 0.066, 0.072, 0.078, 0.073, 0.079, 0.075, 0.078, 0.076, 0.077, 0.077, 0.077, 0.077, 0.077],
    [0.031, 0.026, 0.032, 0.027, 0.022, 0.028, 0.023, 0.029, 0.024, 0.030, 0.025, 0.020, 0.026, 0.021, 0.027, 0.022, 0.028, 0.023, 0.025, 0.022, 0.024, 0.022, 0.023, 0.022, 0.022, 0.022, 0.022, 0.022],
    [0.058, 0.053, 0.059, 0.064, 0.059, 0.065, 0.060, 0.055, 0.061, 0.066, 0.061, 0.067, 0.062, 0.068, 0.063, 0.069, 0.064, 0.070, 0.066, 0.069, 0.067, 0.068, 0.068, 0.068, 0.068, 0.068, 0.068, 0.068],
    [0.039, 0.034, 0.040, 0.045, 0.040, 0.035, 0.041, 0.046, 0.041, 0.047, 0.042, 0.037, 0.043, 0.048, 0.043, 0.049, 0.044, 0.050, 0.045, 0.048, 0.045, 0.047, 0.046, 0.046, 0.046, 0.046, 0.046, 0.046],
    [0.017, 0.022, 0.017, 0.023, 0.019, 0.024, 0.020, 0.026, 0.021, 0.027, 0.023, 0.028, 0.024, 0.030, 0.025, 0.031, 0.027, 0.032, 0.029, 0.033, 0.031, 0.032, 0.032, 0.032, 0.032, 0.032, 0.032, 0.032],
    [0.055, 0.061, 0.067, 0.062, 0.068, 0.074, 0.069, 0.076, 0.071, 0.078, 0.084, 0.079, 0.086, 0.081, 0.088, 0.094, 0.089, 0.096, 0.091, 0.098, 0.094, 0.097, 0.095, 0.096, 0.096, 0.096, 0.096, 0.096],
    [0.050, 0.045, 0.051, 0.046, 0.041, 0.047, 0.042, 0.048, 0.043, 0.038, 0.044, 0.039, 0.045, 0.040, 0.046, 0.041, 0.047, 0.042, 0.044, 0.041, 0.043, 0.042, 0.042, 0.042, 0.042, 0.042, 0.042, 0.042],
    [0.033, 0.038, 0.043, 0.038, 0.044, 0.049, 0.044, 0.050, 0.045, 0.051, 0.056, 0.051, 0.057, 0.052, 0.058, 0.063, 0.058, 0.064, 0.060, 0.063, 0.061, 0.062, 0.062, 0.062, 0.062, 0.062, 0.062, 0.062],
]
RUNS_12 = [
    [0.049, 0.044, 0.050, 0.045, 0.040, 0.046, 0.041, 0.036, 0.042, 0.037, 0.043, 0.038, 0.033, 0.039, 0.034, 0.030, 0.035, 0.031, 0.027, 0.031, 0.026, 0.024, 0.023, 0.022, 0.021, 0.021, 0.021, 0.021],
    [0.042, 0.047, 0.042, 0.048, 0.043, 0.038, 0.044, 0.049, 0.044, 0.039, 0.045, 0.040, 0.046, 0.041, 0.036, 0.042, 0.037, 0.043, 0.038, 0.040, 0.036, 0.038, 0.036, 0.037, 0.036, 0.036, 0.036, 0.036],
    [0.028, 0.033, 0.039, 0.034, 0.040, 0.045, 0.040, 0.046, 0.051, 0.046, 0.052, 0.047, 0.053, 0.058, 0.053, 0.059, 0.054, 0.060, 0.065, 0.061, 0.066, 0.063, 0.065, 0.064, 0.064, 0.064, 0.064, 0.064],
    [0.035, 0.040, 0.035, 0.041, 0.046, 0.041, 0.047, 0.042, 0.037, 0.043, 0.048, 0.043, 0.049, 0.044, 0.050, 0.045, 0.051, 0.046, 0.052, 0.047, 0.050, 0.047, 0.049, 0.048, 0.048, 0.048, 0.048, 0.048],
    [0.020, 0.025, 0.020, 0.015, 0.021, 0.016, 0.022, 0.017, 0.023, 0.018, 0.024, 0.019, 0.025, 0.020, 0.026, 0.021, 0.027, 0.022, 0.028, 0.024, 0.028, 0.026, 0.027, 0.027, 0.027, 0.027, 0.027, 0.027],
    [0.047, 0.052, 0.047, 0.053, 0.058, 0.053, 0.059, 0.054, 0.060, 0.065, 0.060, 0.066, 0.061, 0.067, 0.062, 0.068, 0.073, 0.068, 0.074, 0.069, 0.072, 0.070, 0.071, 0.070, 0.070, 0.070, 0.070, 0.070],
    [0.066, 0.061, 0.067, 0.062, 0.057, 0.063, 0.058, 0.064, 0.059, 0.054, 0.060, 0.055, 0.061, 0.056, 0.051, 0.057, 0.052, 0.058, 0.053, 0.057, 0.054, 0.056, 0.055, 0.055, 0.055, 0.055, 0.055, 0.055],
    [0.023, 0.028, 0.033, 0.028, 0.034, 0.029, 0.035, 0.040, 0.035, 0.041, 0.036, 0.042, 0.047, 0.042, 0.048, 0.043, 0.049, 0.044, 0.049, 0.045, 0.047, 0.045, 0.046, 0.046, 0.046, 0.046, 0.046, 0.046],
    [0.054, 0.059, 0.054, 0.060, 0.066, 0.061, 0.067, 0.062, 0.068, 0.063, 0.069, 0.075, 0.070, 0.076, 0.071, 0.077, 0.072, 0.078, 0.074, 0.078, 0.075, 0.077, 0.076, 0.077, 0.077, 0.077, 0.077, 0.077],
    [0.030, 0.025, 0.031, 0.026, 0.032, 0.027, 0.033, 0.028, 0.034, 0.029, 0.035, 0.030, 0.036, 0.031, 0.037, 0.032, 0.038, 0.033, 0.037, 0.034, 0.036, 0.035, 0.036, 0.036, 0.036, 0.036, 0.036, 0.036],
    [0.061, 0.066, 0.072, 0.067, 0.073, 0.068, 0.074, 0.080, 0.075, 0.081, 0.076, 0.082, 0.088, 0.083, 0.089, 0.084, 0.090, 0.085, 0.089, 0.086, 0.088, 0.087, 0.088, 0.088, 0.088, 0.088, 0.088, 0.088],
    [0.039, 0.034, 0.040, 0.035, 0.030, 0.036, 0.031, 0.026, 0.032, 0.027, 0.033, 0.028, 0.023, 0.029, 0.024, 0.030, 0.025, 0.031, 0.027, 0.031, 0.028, 0.030, 0.029, 0.030, 0.030, 0.030, 0.030, 0.030],
]
RUNS_13 = [
    [0.025, 0.030, 0.025, 0.031, 0.026, 0.021, 0.027, 0.022, 0.028, 0.023, 0.029, 0.024, 0.030, 0.025, 0.020, 0.026, 0.021, 0.027, 0.023, 0.025, 0.022, 0.023, 0.022, 0.022, 0.022, 0.022, 0.022, 0.022],
    [0.048, 0.043, 0.049, 0.044, 0.050, 0.055, 0.050, 0.056, 0.051, 0.046, 0.052, 0.047, 0.053, 0.048, 0.054, 0.049, 0.044, 0.050, 0.046, 0.049, 0.047, 0.048, 0.048, 0.048, 0.048, 0.048, 0.048, 0.048],
    [0.044, 0.039, 0.045, 0.040, 0.035, 0.041, 0.036, 0.042, 0.037, 0.043, 0.038, 0.033, 0.039, 0.034, 0.040, 0.035, 0.041, 0.036, 0.039, 0.035, 0.037, 0.036, 0.036, 0.036, 0.036, 0.036, 0.036, 0.036],
    [0.037, 0.042, 0.048, 0.043, 0.049, 0.044, 0.050, 0.055, 0.050, 0.056, 0.051, 0.057, 0.062, 0.057, 0.063, 0.058, 0.064, 0.059, 0.065, 0.061, 0.064, 0.063, 0.064, 0.064, 0.064, 0.064, 0.064, 0.064],
    [0.033, 0.028, 0.034, 0.029, 0.035, 0.030, 0.025, 0.031, 0.026, 0.032, 0.027, 0.033, 0.028, 0.023, 0.029, 0.024, 0.030, 0.025, 0.029, 0.026, 0.028, 0.027, 0.027, 0.027, 0.027, 0.027, 0.027, 0.027],
    [0.042, 0.047, 0.042, 0.048, 0.053, 0.048, 0.054, 0.049, 0.055, 0.060, 0.055, 0.061, 0.056, 0.051, 0.057, 0.052, 0.058, 0.053, 0.057, 0.054, 0.056, 0.055, 0.055, 0.055, 0.055, 0.055, 0.055, 0.055],
    [0.064, 0.069, 0.064, 0.070, 0.075, 0.070, 0.076, 0.071, 0.077, 0.072, 0.078, 0.084, 0.079, 0.085, 0.080, 0.086, 0.081, 0.087, 0.083, 0.086, 0.083, 0.084, 0.083, 0.083, 0.083, 0.083, 0.083, 0.083],
    [0.056, 0.051, 0.057, 0.052, 0.047, 0.053, 0.048, 0.043, 0.049, 0.044, 0.050, 0.045, 0.040, 0.046, 0.041, 0.047, 0.042, 0.038, 0.043, 0.039, 0.041, 0.040, 0.040, 0.040, 0.040, 0.040, 0.040, 0.040],
    [0.026, 0.031, 0.036, 0.031, 0.037, 0.043, 0.038, 0.044, 0.050, 0.045, 0.051, 0.057, 0.052, 0.058, 0.064, 0.059, 0.065, 0.070, 0.066, 0.070, 0.067, 0.069, 0.068, 0.068, 0.068, 0.068, 0.068, 0.068],
    [0.031, 0.036, 0.031, 0.026, 0.032, 0.037, 0.032, 0.038, 0.043, 0.038, 0.044, 0.039, 0.045, 0.050, 0.045, 0.051, 0.046, 0.042, 0.047, 0.044, 0.046, 0.045, 0.046, 0.046, 0.046, 0.046, 0.046, 0.046],
    [0.015, 0.011, 0.016, 0.012, 0.018, 0.013, 0.019, 0.015, 0.021, 0.016, 0.022, 0.017, 0.023, 0.019, 0.025, 0.020, 0.026, 0.021, 0.025, 0.022, 0.024, 0.023, 0.024, 0.024, 0.024, 0.024, 0.024, 0.024],
    [0.070, 0.075, 0.070, 0.065, 0.071, 0.066, 0.072, 0.077, 0.072, 0.078, 0.073, 0.068, 0.074, 0.079, 0.074, 0.080, 0.075, 0.070, 0.076, 0.072, 0.075, 0.073, 0.074, 0.074, 0.074, 0.074, 0.074, 0.074],
]
RUNS_14 = [
    [0.045, 0.052, 0.060, 0.054, 0.063, 0.071, 0.065, 0.074, 0.082, 0.076, 0.085, 0.092, 0.086, 0.094, 0.100, 0.095, 0.102, 0.097, 0.101, 0.099, 0.100, 0.100],
    [0.052, 0.046, 0.055, 0.063, 0.057, 0.066, 0.074, 0.068, 0.077, 0.071, 0.080, 0.074, 0.083, 0.077, 0.085, 0.080, 0.087, 0.082, 0.085, 0.083, 0.084, 0.084],
    [0.038, 0.045, 0.052, 0.047, 0.056, 0.064, 0.058, 0.067, 0.061, 0.070, 0.078, 0.072, 0.081, 0.075, 0.070, 0.076, 0.071, 0.074, 0.069, 0.071, 0.070, 0.070],
    [0.060, 0.068, 0.075, 0.069, 0.078, 0.086, 0.080, 0.089, 0.097, 0.091, 0.100, 0.094, 0.103, 0.108, 0.102, 0.107, 0.101, 0.105, 0.103, 0.104, 0.104, 0.104],
    [0.030, 0.024, 0.031, 0.026, 0.020, 0.027, 0.021, 0.028, 0.022, 0.017, 0.024, 0.019, 0.026, 0.021, 0.027, 0.022, 0.025, 0.021, 0.023, 0.022, 0.022, 0.022],
    [0.048, 0.055, 0.049, 0.057, 0.065, 0.059, 0.068, 0.062, 0.071, 0.065, 0.073, 0.067, 0.061, 0.068, 0.062, 0.069, 0.064, 0.068, 0.066, 0.067, 0.067, 0.067],
    [0.066, 0.073, 0.067, 0.076, 0.083, 0.077, 0.086, 0.093, 0.087, 0.095, 0.089, 0.097, 0.091, 0.098, 0.093, 0.099, 0.094, 0.097, 0.095, 0.096, 0.096, 0.096],
    [0.035, 0.029, 0.036, 0.043, 0.037, 0.045, 0.039, 0.047, 0.041, 0.049, 0.043, 0.051, 0.045, 0.052, 0.047, 0.053, 0.048, 0.051, 0.048, 0.049, 0.048, 0.048],
    [0.055, 0.062, 0.070, 0.064, 0.072, 0.066, 0.075, 0.082, 0.076, 0.084, 0.078, 0.086, 0.080, 0.088, 0.082, 0.077, 0.082, 0.078, 0.080, 0.077, 0.077, 0.077],
    [0.020, 0.014, 0.021, 0.016, 0.011, 0.017, 0.012, 0.019, 0.014, 0.021, 0.016, 0.023, 0.018, 0.025, 0.020, 0.026, 0.022, 0.027, 0.024, 0.026, 0.025, 0.025],
    [0.072, 0.079, 0.086, 0.080, 0.089, 0.097, 0.091, 0.099, 0.093, 0.101, 0.108, 0.102, 0.110, 0.104, 0.111, 0.116, 0.111, 0.115, 0.113, 0.114, 0.114, 0.114],
    [0.042, 0.049, 0.043, 0.051, 0.058, 0.052, 0.060, 0.067, 0.061, 0.069, 0.063, 0.057, 0.064, 0.058, 0.065, 0.059, 0.063, 0.060, 0.062, 0.061, 0.061, 0.061],
]
RUNS_15 = [
    [0.050, 0.057, 0.064, 0.058, 0.067, 0.075, 0.069, 0.078, 0.072, 0.081, 0.088, 0.082, 0.091, 0.085, 0.093, 0.088, 0.094, 0.090, 0.093, 0.091, 0.092, 0.092],
    [0.040, 0.034, 0.041, 0.048, 0.042, 0.050, 0.057, 0.051, 0.059, 0.066, 0.060, 0.068, 0.062, 0.070, 0.064, 0.071, 0.066, 0.069, 0.067, 0.068, 0.068, 0.068],
    [0.063, 0.070, 0.064, 0.072, 0.079, 0.073, 0.081, 0.088, 0.082, 0.090, 0.084, 0.078, 0.085, 0.079, 0.086, 0.081, 0.085, 0.082, 0.083, 0.082, 0.082, 0.082],
    [0.033, 0.039, 0.046, 0.040, 0.048, 0.055, 0.049, 0.057, 0.051, 0.059, 0.053, 0.060, 0.054, 0.061, 0.056, 0.062, 0.057, 0.060, 0.058, 0.059, 0.058, 0.058],
    [0.025, 0.019, 0.026, 0.020, 0.015, 0.021, 0.016, 0.023, 0.018, 0.025, 0.020, 0.027, 0.022, 0.028, 0.024, 0.029, 0.025, 0.028, 0.026, 0.027, 0.027, 0.027],
    [0.078, 0.085, 0.092, 0.086, 0.095, 0.102, 0.096, 0.104, 0.098, 0.106, 0.112, 0.106, 0.114, 0.108, 0.115, 0.119, 0.114, 0.118, 0.116, 0.117, 0.117, 0.117],
    [0.046, 0.053, 0.047, 0.055, 0.062, 0.056, 0.064, 0.071, 0.065, 0.073, 0.067, 0.074, 0.068, 0.075, 0.070, 0.076, 0.072, 0.075, 0.073, 0.074, 0.074, 0.074],
    [0.058, 0.065, 0.072, 0.066, 0.074, 0.068, 0.076, 0.083, 0.077, 0.085, 0.079, 0.087, 0.093, 0.087, 0.094, 0.089, 0.095, 0.091, 0.089, 0.090, 0.090, 0.090],
    [0.036, 0.030, 0.037, 0.031, 0.038, 0.045, 0.039, 0.046, 0.040, 0.047, 0.041, 0.048, 0.042, 0.049, 0.044, 0.050, 0.045, 0.048, 0.046, 0.047, 0.046, 0.046],
    [0.015, 0.010, 0.016, 0.012, 0.008, 0.014, 0.010, 0.016, 0.012, 0.018, 0.014, 0.020, 0.016, 0.022, 0.018, 0.023, 0.020, 0.022, 0.021, 0.022, 0.021, 0.021],
    [0.068, 0.075, 0.069, 0.077, 0.084, 0.078, 0.072, 0.079, 0.073, 0.080, 0.074, 0.081, 0.075, 0.082, 0.076, 0.083, 0.078, 0.081, 0.079, 0.080, 0.080, 0.080],
    [0.054, 0.060, 0.054, 0.061, 0.055, 0.049, 0.056, 0.050, 0.057, 0.051, 0.058, 0.052, 0.059, 0.053, 0.060, 0.054, 0.058, 0.055, 0.056, 0.055, 0.055, 0.055],
]

# the few runs that stay far above the bulk, read one by one
TOP_X = [0, 10000, 16000, 24000, 31000, 34000, 41000, 46000, 50000, 53000, 56000, 62000, 66000, 72000, 86000,
         96000, 104000, 112000, 116000, 127000, 133000, 138000, 142000, 146000, 163000, 170000, 176000, 191000,
         198000, 240000, 272000, 327000, 357000, 361000, 363000, 367000, 381000, 395000, 420000, 440000, 473000,
         485000, 499000, 500000]
TOP_Y = [0.181, 0.188, 0.190, 0.194, 0.198, 0.200, 0.190, 0.194, 0.188, 0.198, 0.205, 0.202, 0.193, 0.199, 0.197,
         0.196, 0.199, 0.194, 0.200, 0.204, 0.202, 0.207, 0.209, 0.212, 0.216, 0.213, 0.212, 0.213,
         0.2125, 0.2115, 0.211, 0.2097, 0.206, 0.200, 0.193, 0.197, 0.198, 0.197, 0.1945, 0.1966, 0.1955,
         0.196, 0.198, 0.198]
CYAN_X = [0, 5000, 12000, 21000, 30000, 37000, 44000, 54000, 60000, 68000, 80000, 90000, 97000, 107000, 123000,
          137000, 157000, 175000, 194000, 232000, 300000, 369000, 377000, 402000, 404000, 414000, 436000, 444000,
          470000, 500000]
CYAN_Y = [0.121, 0.117, 0.114, 0.118, 0.113, 0.127, 0.129, 0.123, 0.130, 0.124, 0.134, 0.131, 0.127, 0.131, 0.132,
          0.137, 0.141, 0.145, 0.146, 0.1555, 0.158, 0.1617, 0.1625, 0.1645, 0.1766, 0.172, 0.170, 0.1618,
          0.1662, 0.1662]
GRAY_X = [0, 7000, 21000, 25000, 32000, 50000, 52000, 69000, 75000, 85000, 88000, 104000, 117000, 128000, 137000,
          148000, 225000, 237000, 270000, 300000, 304000, 371000, 399000, 403000, 425000, 500000]
GRAY_Y = [0.137, 0.135, 0.133, 0.146, 0.152, 0.156, 0.152, 0.149, 0.147, 0.143, 0.149, 0.143, 0.146, 0.155, 0.158,
          0.153, 0.154, 0.1566, 0.1605, 0.163, 0.1614, 0.1618, 0.163, 0.1618, 0.1614, 0.1614]
LAV_X = [0, 20000, 45000, 70000, 90000, 105000, 114000, 117000, 123000, 142000, 150000, 170000, 217000, 237000,
         274000, 333000, 420000, 500000]
LAV_Y = [0.128, 0.124, 0.131, 0.127, 0.135, 0.139, 0.1428, 0.146, 0.148, 0.149, 0.150, 0.1517, 0.153, 0.1497,
         0.1524, 0.1548, 0.1559, 0.1559]
PINK_X = [0, 4000, 8000, 13000, 16000, 33000, 53000, 60000, 68000, 80000, 100000, 142000, 147000, 164000, 200000,
          260000, 330000, 435000, 500000]
PINK_Y = [0.161, 0.158, 0.1634, 0.158, 0.1414, 0.138, 0.1357, 0.141, 0.136, 0.1334, 0.135, 0.146, 0.144, 0.141,
          0.139, 0.1395, 0.138, 0.1405, 0.1405]
BLUE_X = [0, 30000, 60000, 95000, 130000, 160000, 190000, 215000, 240000, 270000, 286000, 342000, 350000, 372000,
          396000, 500000]
BLUE_Y = [0.088, 0.097, 0.105, 0.112, 0.118, 0.125, 0.129, 0.134, 0.136, 0.1403, 0.146, 0.1507, 0.1483, 0.1466,
          0.1443, 0.1434]
GRAY2_X = [0, 40000, 80000, 120000, 150000, 175000, 200000, 240000, 275000, 310000, 355000, 420000, 500000]
GRAY2_Y = [0.105, 0.112, 0.118, 0.126, 0.131, 0.1376, 0.139, 0.1415, 0.143, 0.1448, 0.1462, 0.1468, 0.147]
PINK2_X = [0, 25000, 50000, 80000, 110000, 150000, 190000, 230000, 270000, 320000, 380000, 500000]
PINK2_Y = [0.108, 0.104, 0.113, 0.119, 0.116, 0.125, 0.130, 0.134, 0.1355, 0.1365, 0.137, 0.1375]
OLIVE_X = [0, 9000, 15000, 25000, 40000, 55000, 70000, 90000, 115000, 140000, 170000, 200000, 240000, 290000,
           350000, 420000, 500000]
OLIVE_Y = [0.1345, 0.131, 0.128, 0.125, 0.121, 0.118, 0.121, 0.116, 0.119, 0.122, 0.125, 0.127, 0.126, 0.128,
           0.129, 0.1295, 0.130]
PINK3_X = [0, 12000, 20000, 35000, 48000, 60000, 75000, 95000, 120000, 150000, 190000, 240000, 300000, 400000, 500000]
PINK3_Y = [0.133, 0.127, 0.120, 0.123, 0.117, 0.111, 0.114, 0.108, 0.112, 0.118, 0.121, 0.119, 0.122, 0.1225, 0.1225]
LAV2_X = [0, 30000, 60000, 100000, 140000, 180000, 220000, 270000, 330000, 500000]
LAV2_Y = [0.072, 0.081, 0.078, 0.094, 0.101, 0.112, 0.119, 0.125, 0.129, 0.131]
CYAN2_X = [0, 20000, 45000, 70000, 95000, 120000, 150000, 185000, 225000, 270000, 330000, 400000, 500000]
CYAN2_Y = [0.060, 0.071, 0.082, 0.076, 0.091, 0.099, 0.108, 0.115, 0.121, 0.1245, 0.126, 0.1265, 0.1265]

Y_TICKS = [0.0, 0.05, 0.10, 0.15, 0.20]
Y_LABELS = ["0.00", "0.05", "0.10", "0.15", "0.20"]
X_TICKS = [0, 100000, 200000, 300000, 400000, 500000]
X_LABELS = ["0", "1×10 <sup>5</sup>", "2×10 <sup>5</sup>", "3×10 <sup>5</sup>", "4×10 <sup>5</sup>", "5×10 <sup>5</sup>"]

PALETTE = ["#00A9AD", "#ED5E93", "#8E971D", "#C371D2", "#009AFA", "#00A98D",
           "#D9705A", "#9B7FE8", "#AC8D18", "#00A9CD", "#3EA44E", "#C86A8A"]

FONT = "Liberation Sans, Arial, sans-serif"

fig = go.Figure()

k = 0
groups = [(GRID_1, RUNS_1), (GRID_2, RUNS_2), (GRID_3, RUNS_3), (GRID_4, RUNS_4), (GRID_5, RUNS_5),
          (GRID_6, RUNS_6), (GRID_7, RUNS_7), (GRID_8, RUNS_8), (GRID_9, RUNS_9),
          (GRID_10, RUNS_10), (GRID_11, RUNS_11), (GRID_12, RUNS_12), (GRID_13, RUNS_13),
          (GRID_14, RUNS_14), (GRID_15, RUNS_15)]
for grid, runs in groups:
    for ys in runs:
        fig.add_trace(go.Scatter(
            x=grid, y=ys, mode="lines", line_shape="hv",
            line=dict(color=PALETTE[k % len(PALETTE)], width=2.2),
            opacity=0.45, hoverinfo="skip", showlegend=False
        ))
        k += 1

outliers = [
    (TOP_X, TOP_Y, "#8E971D"),
    (CYAN_X, CYAN_Y, "#00A9AD"),
    (GRAY_X, GRAY_Y, "#9a9a9a"),
    (LAV_X, LAV_Y, "#C371D2"),
    (PINK_X, PINK_Y, "#ED5E93"),
    (BLUE_X, BLUE_Y, "#009AFA"),
    (GRAY2_X, GRAY2_Y, "#9a9a9a"),
    (PINK2_X, PINK2_Y, "#ED5E93"),
    (OLIVE_X, OLIVE_Y, "#AC8D18"),
    (PINK3_X, PINK3_Y, "#ED5E93"),
    (LAV2_X, LAV2_Y, "#C371D2"),
    (CYAN2_X, CYAN2_Y, "#00A9CD"),
]
for xs, ys, col in outliers:
    fig.add_trace(go.Scatter(
        x=xs, y=ys, mode="lines", line_shape="hv",
        line=dict(color=col, width=1.8),
        opacity=0.3, hoverinfo="skip", showlegend=False
    ))

axis_common = dict(
    showgrid=True, gridcolor="#e8e8e8", gridwidth=1, zeroline=False,
    showline=True, linecolor="black", linewidth=2,
    ticks="inside", tickwidth=1.5, tickcolor="black",
)

# the page body adds 8px around the figure, so margins are set 8px short on the left/top
fig.update_layout(
    width=1200, height=800,
    paper_bgcolor="white", plot_bgcolor="white",
    margin=dict(l=129, r=48, t=55, b=92),
    title=dict(text="p*\u00a0 ; n = 5 ; sigma = 0.02", x=0.524, xanchor="center", y=0.968, yanchor="middle",
               font=dict(family=FONT, size=48, color="black")),
    xaxis=dict(range=[-15000, 515000], tickvals=X_TICKS, ticktext=X_LABELS, ticklen=8,
               tickfont=dict(family=FONT, size=29, color="black"), **axis_common),
    yaxis=dict(range=[-0.0031, 0.2221], tickvals=Y_TICKS, ticktext=Y_LABELS, ticklen=14,
               tickfont=dict(family=FONT, size=29, color="black"), ticklabelstandoff=6, **axis_common),
    annotations=[
        dict(text="iterations", xref="paper", yref="paper", x=0.4966, y=-0.095,
             xanchor="center", yanchor="middle", showarrow=False,
             font=dict(family=FONT, size=37, color="black")),
        dict(text="standard deviation of opinion values", xref="paper", yref="paper", x=-0.1065, y=0.499,
             xanchor="center", yanchor="middle", textangle=-90, showarrow=False,
             font=dict(family=FONT, size=37, color="black")),
    ],
)

fig.write_html("out.html")
